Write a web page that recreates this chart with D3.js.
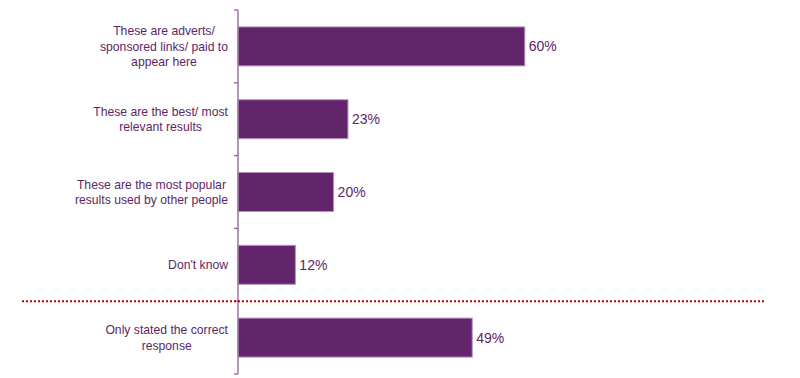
<!DOCTYPE html>
<html><head><meta charset="utf-8">
<script src="https://cdn.jsdelivr.net/npm/d3@7"></script>
<style>body{margin:0;background:#fff}svg{display:block}</style>
</head><body>
<svg id="chart" width="800" height="378"></svg>
<script>
const categories = [
  "These are adverts/ sponsored links/ paid to appear here",
  "These are the best/ most relevant results",
  "These are the most popular results used by other people",
  "Don't know",
  "Only stated the correct response"
];
const labelLines = [
  ["These are adverts/", "sponsored links/ paid to", "appear here"],
  ["These are the best/ most", "relevant results"],
  ["These are the most popular", "results used by other people"],
  ["Don't know"],
  ["Only stated the correct", "response"]
];
const values = [60, 23, 20, 12, 49];
const valueLabels = ["60%", "23%", "20%", "12%", "49%"];

const svg = d3.select("#chart");
const barColor = "#62246a", edgeColor = "#b58fbb", textColor = "#5d2665";
const font = "'Liberation Sans', Arial, sans-serif";

const x = d3.scaleLinear().domain([0, 100]).range([238, 716]);
const pIn = 0.465;
const y = d3.scaleBand().domain(categories).range([10, 374]).paddingInner(pIn).paddingOuter(pIn / 2);

// bars
svg.selectAll("rect.bar").data(categories).enter().append("rect")
  .attr("class", "bar")
  .attr("x", x(0))
  .attr("y", d => y(d))
  .attr("width", (d, i) => x(values[i]) - x(0))
  .attr("height", y.bandwidth())
  .attr("fill", barColor)
  .attr("stroke", edgeColor)
  .attr("stroke-width", 1);

// axis line and ticks at band boundaries
const bounds = categories.map(d => y(d) - y.step() * pIn / 2).concat([y(categories[categories.length - 1]) + y.bandwidth() + y.step() * pIn / 2]);
svg.append("line")
  .attr("x1", x(0)).attr("x2", x(0))
  .attr("y1", bounds[0]).attr("y2", bounds[bounds.length - 1])
  .attr("stroke", "#9c74a3").attr("stroke-width", 1.5);
svg.selectAll("line.tick").data(bounds).enter().append("line")
  .attr("class", "tick")
  .attr("x1", x(0) - 4).attr("x2", x(0))
  .attr("y1", d => d).attr("y2", d => d)
  .attr("stroke", "#9c74a3").attr("stroke-width", 1.5);

// category labels: centred block, right edge of widest line at 228
const lh = 15.5;
categories.forEach((c, i) => {
  const lines = labelLines[i];
  const cy = y(c) + y.bandwidth() / 2;
  const t = svg.append("text")
    .attr("text-anchor", "middle")
    .attr("font-family", font)
    .attr("font-size", 12.2)
    .attr("fill", textColor);
  const spans = lines.map((ln, j) => t.append("tspan")
      .attr("y", cy + (j - (lines.length - 1) / 2) * lh)
      .attr("dy", "0.35em")
      .text(ln));
  const maxW = d3.max(spans, s => s.node().getComputedTextLength());
  spans.forEach(s => s.attr("x", 228 - maxW / 2));
});

// value labels
svg.selectAll("text.val").data(categories).enter().append("text")
  .attr("class", "val")
  .attr("x", (d, i) => x(values[i]) + 4)
  .attr("y", d => y(d) + y.bandwidth() / 2)
  .attr("dy", "0.36em")
  .attr("font-family", font)
  .attr("font-size", 14)
  .attr("fill", textColor)
  .text((d, i) => valueLabels[i]);

// dotted separator between "Don't know" and the final row
svg.append("line")
  .attr("x1", 22).attr("x2", 765)
  .attr("y1", bounds[4]).attr("y2", bounds[4])
  .attr("stroke", "#c00000").attr("stroke-width", 2)
  .attr("stroke-dasharray", "2,2");
</script>
</body></html>
